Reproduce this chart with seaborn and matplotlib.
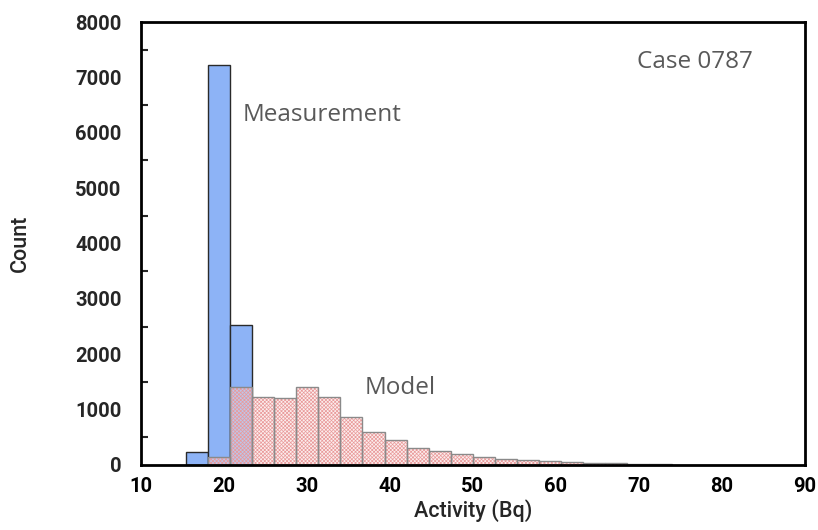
import numpy as np
import matplotlib
matplotlib.use("Agg")
import matplotlib.pyplot as plt
import seaborn as sns
from matplotlib.ticker import MultipleLocator

# ---- data ----
bin_edges = [15.40, 18.06, 20.72, 23.38, 26.04, 28.70, 31.36, 34.02, 36.68, 39.34,
             42.00, 44.66, 47.32, 49.98, 52.64, 55.30, 57.96, 60.62, 63.28, 65.94,
             68.60, 71.26, 73.92]
measurement_counts = [229, 7220, 2527]
model_counts = [0, 150, 1413, 1233, 1215, 1413, 1222, 872, 590, 455, 315, 247,
                193, 150, 114, 90, 67, 49, 36, 30, 22, 15]
x_ticks = [10, 20, 30, 40, 50, 60, 70, 80, 90]
y_ticks = [0, 1000, 2000, 3000, 4000, 5000, 6000, 7000, 8000]

sns.set_style("white")
plt.rcParams['font.family'] = ['Roboto', 'DejaVu Sans']
plt.rcParams['hatch.linewidth'] = 0.5

edges = np.array(bin_edges)
centers = (edges[:-1] + edges[1:]) / 2

fig = plt.figure(figsize=(8.18, 5.30), dpi=100)
ax = fig.add_axes([141/818, 65/530, 664/818, 443/530])

meas_edges = bin_edges[:len(measurement_counts) + 1]
sns.histplot(x=centers[:len(measurement_counts)], weights=measurement_counts,
             bins=meas_edges, ax=ax, color="#8db3f6", alpha=1.0,
             edgecolor="#2a2a2a", linewidth=1.0)

# model: hatched fill layer then outline layer
sns.histplot(x=centers, weights=model_counts, bins=bin_edges, ax=ax,
             facecolor=(0.98, 0.86, 0.86, 0.45), edgecolor="#e99a9a",
             hatch="xxxxxxxxx", linewidth=0)
sns.histplot(x=centers, weights=model_counts, bins=bin_edges, ax=ax,
             fill=False, color="#8a8a8a", linewidth=1.0)

ax.set_xlim(10, 90)
ax.set_ylim(0, 8000)
ax.set_xticks(x_ticks)
ax.set_yticks(y_ticks)
ax.yaxis.set_minor_locator(MultipleLocator(500))

ax.tick_params(axis='x', direction='out', length=7, width=2, colors='black',
               labelsize=14.5, pad=2)
ax.tick_params(axis='y', which='major', direction='in', length=7, width=2,
               labelsize=14.5, pad=14)
ax.tick_params(axis='y', which='minor', direction='in', length=5, width=1.5, left=True)
for lab in ax.get_xticklabels() + ax.get_yticklabels():
    lab.set_fontweight('bold')

for s in ax.spines.values():
    s.set_visible(True)
    s.set_color('black')
    s.set_linewidth(2)

ax.set_xlabel("Activity (Bq)", fontsize=15.5, fontweight='medium', labelpad=2)
ax.set_ylabel("Count", fontsize=15.5, fontweight='medium', labelpad=32)

txt_color = "#595959"
ax.text(22.2, 6318, "Measurement", fontsize=17.5, color=txt_color, va='center',
        family=['Open Sans', 'DejaVu Sans'])
ax.text(37.0, 1390, "Model", fontsize=17.5, color=txt_color, va='center',
        family=['Open Sans', 'DejaVu Sans'])
ax.text(69.8, 7274, "Case 0787", fontsize=17.5, color=txt_color, va='center',
        family=['Open Sans', 'DejaVu Sans'])

fig.savefig("out.png", dpi=100)
